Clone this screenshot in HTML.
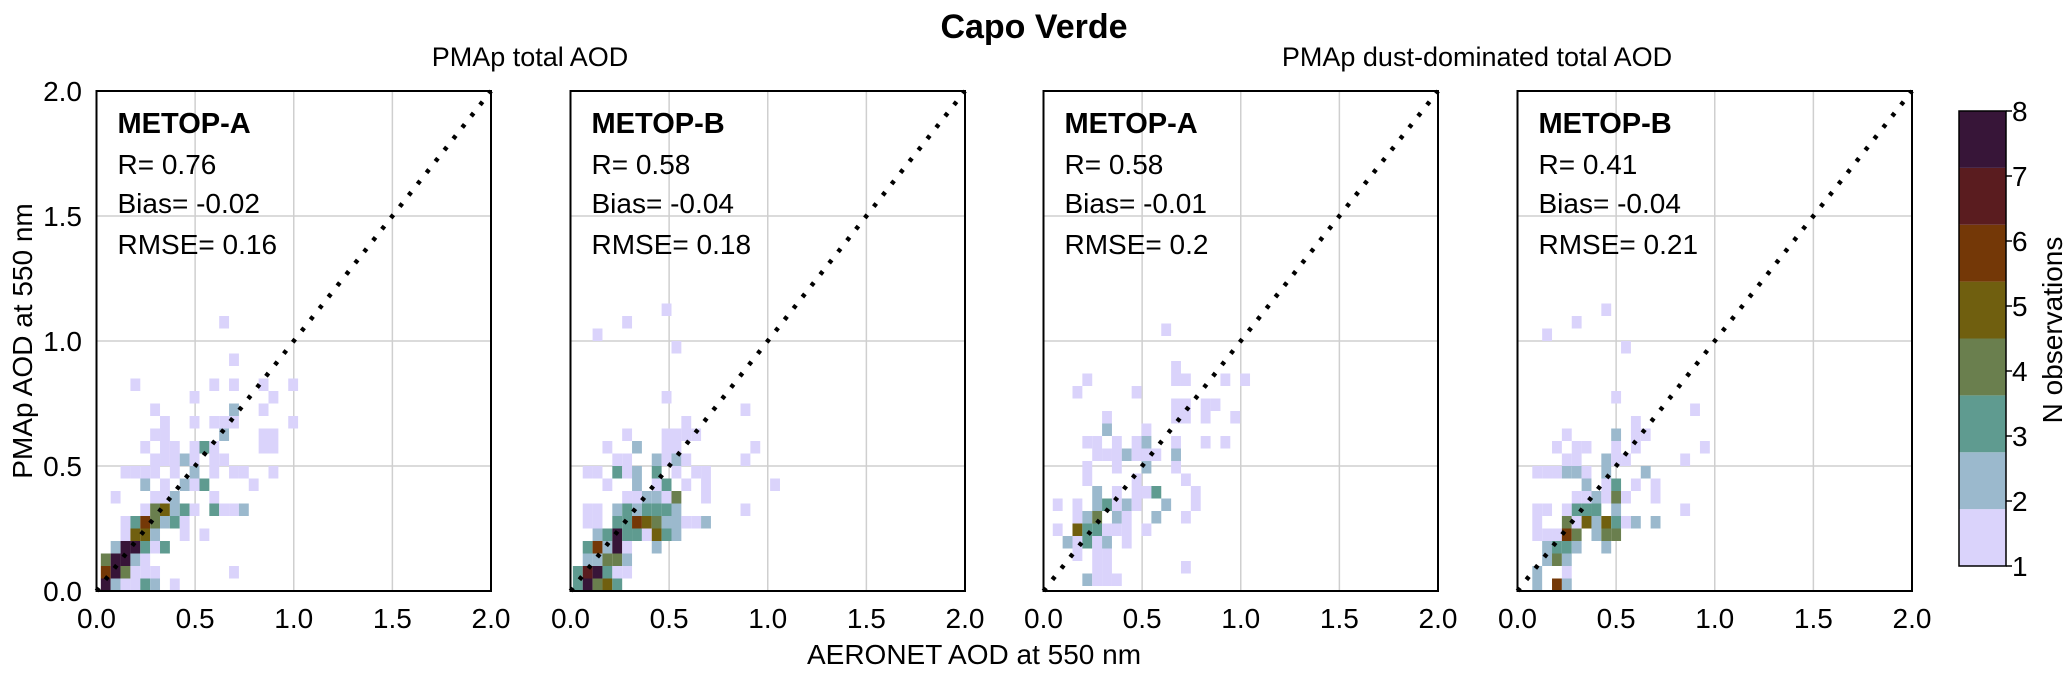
<!DOCTYPE html>
<html><head><meta charset="utf-8">
<style>
html,body{margin:0;padding:0;background:#fff;}
svg{display:block;font-family:"Liberation Sans",Arial,sans-serif;}
</style></head>
<body>
<svg id="chart" width="2067" height="676" viewBox="0 0 2067 676" xmlns="http://www.w3.org/2000/svg">
<text x="1034" y="38" font-size="34" font-weight="bold" text-anchor="middle">Capo Verde</text>
<text x="530" y="66" font-size="27" text-anchor="middle">PMAp total AOD</text>
<text x="1477" y="66" font-size="27" text-anchor="middle">PMAp dust-dominated total AOD</text>
<text transform="translate(32,341) rotate(-90)" font-size="28" text-anchor="middle">PMAp AOD at 550 nm</text>
<text x="974" y="664" font-size="28" text-anchor="middle">AERONET AOD at 550 nm</text>
<g id="panels"></g>
<g id="colorbar"></g>
</svg>
<script>
const NS = "http://www.w3.org/2000/svg";
const tickValues = [0, 0.5, 1.0, 1.5, 2.0];
const tickLabels = ["0.0", "0.5", "1.0", "1.5", "2.0"];
const colorLevels = ["#dad3fb", "#9bb9cd", "#5f9b90", "#6a7f4e", "#705f0f", "#743807", "#5a1c1f", "#371538"];
const cbTicks = [1, 2, 3, 4, 5, 6, 7, 8];
const binWidth = 0.05;

const satellites = ["METOP-A", "METOP-B", "METOP-A", "METOP-B"];
const rValues = ["0.76", "0.58", "0.58", "0.41"];
const biasValues = ["-0.02", "-0.04", "-0.01", "-0.04"];
const rmseValues = ["0.16", "0.18", "0.2", "0.21"];
const binStartX = [0.022, 0.012, 0.047, 0.025];
const binStartY = [0, 0, 0.02, 0];

// cells: [x-bin index, y-bin index, count]
const cellsP1 = [[0,0,8],[1,0,2],[2,0,1],[3,0,1],[4,0,3],[5,0,2],[7,0,1],
[0,1,6],[1,1,8],[2,1,4],[3,1,1],[4,1,1],[5,1,1],[13,1,1],
[0,2,4],[1,2,8],[2,2,8],[3,2,2],[4,2,1],
[1,3,2],[2,3,8],[3,3,8],[4,3,3],[5,3,1],[6,3,3],
[2,4,1],[3,4,5],[4,4,5],[5,4,2],[8,4,1],[10,4,1],
[2,5,1],[3,5,3],[4,5,6],[5,5,4],[6,5,2],[7,5,3],[8,5,1],
[4,6,1],[5,6,4],[6,6,5],[7,6,2],[8,6,3],[9,6,1],[11,6,3],[12,6,1],[13,6,1],[14,6,2],
[1,7,1],[5,7,1],[6,7,1],[7,7,2],[11,7,1],
[4,8,2],[6,8,1],[8,8,2],[9,8,1],[10,8,3],[15,8,1],
[2,9,1],[3,9,1],[4,9,1],[5,9,1],[7,9,1],[9,9,2],[11,9,1],[13,9,1],[14,9,1],[17,9,1],
[5,10,1],[6,10,1],[7,10,1],[8,10,2],[9,10,1],[11,10,1],[12,10,1],
[4,11,1],[6,11,1],[7,11,1],[9,11,1],[10,11,3],[11,11,1],[16,11,1],[17,11,1],
[5,12,1],[6,12,1],[12,12,2],[16,12,1],[17,12,1],
[6,13,1],[9,13,1],[11,13,1],[12,13,1],[13,13,1],[19,13,1],
[5,14,1],[13,14,2],[16,14,1],[9,15,1],[17,15,1],
[3,16,1],[11,16,1],[13,16,1],[16,16,1],[19,16,1],[13,18,1],[12,21,1]];
const cellsP2 = [[0,0,3],[1,0,8],[2,0,4],[3,0,5],[4,0,3],
[0,1,3],[1,1,7],[2,1,8],[3,1,3],[4,1,1],[5,1,1],
[1,2,2],[2,2,2],[3,2,4],[4,2,4],[5,2,2],
[1,3,3],[2,3,6],[3,3,2],[4,3,8],[5,3,1],[8,3,2],
[2,4,2],[3,4,3],[4,4,8],[5,4,3],[6,4,3],[7,4,1],[8,4,5],[9,4,3],[10,4,2],
[1,5,1],[2,5,1],[4,5,3],[5,5,3],[6,5,6],[7,5,5],[8,5,4],[9,5,2],[10,5,2],[11,5,1],[12,5,1],[13,5,2],
[1,6,1],[2,6,1],[4,6,2],[5,6,3],[6,6,2],[7,6,3],[8,6,3],[9,6,3],[10,6,2],[17,6,1],
[5,7,1],[6,7,1],[7,7,2],[8,7,2],[9,7,1],[10,7,4],[13,7,1],
[3,8,1],[6,8,2],[8,8,1],[9,8,3],[11,8,1],[13,8,1],[20,8,1],
[1,9,1],[2,9,1],[4,9,3],[5,9,1],[6,9,2],[8,9,3],[10,9,1],[12,9,1],[13,9,1],
[4,10,1],[5,10,1],[8,10,2],[9,10,1],[10,10,2],[11,10,1],[17,10,1],
[3,11,1],[6,11,2],[9,11,1],[10,11,1],[18,11,1],
[5,12,1],[9,12,1],[10,12,1],[11,12,1],[12,12,1],
[11,13,1],[17,14,1],[9,15,1],[10,19,1],[2,20,1],[5,21,1],[9,22,1]];
const cellsP3 = [[3,0,2],[4,0,1],[5,0,1],[6,0,1],
[4,1,1],[5,1,1],[13,1,1],
[2,2,1],[4,2,1],[5,2,1],
[1,3,2],[2,3,1],[3,3,3],[4,3,1],[5,3,2],[7,3,1],
[0,4,1],[2,4,5],[3,4,3],[4,4,3],[5,4,1],[6,4,1],[7,4,1],[9,4,1],
[2,5,1],[3,5,2],[4,5,4],[6,5,2],[7,5,1],[10,5,2],[13,5,1],
[0,6,1],[2,6,1],[4,6,2],[5,6,3],[6,6,1],[7,6,2],[8,6,1],[11,6,2],[14,6,1],
[4,7,2],[6,7,1],[8,7,1],[9,7,1],[10,7,3],[14,7,1],
[3,8,1],[8,8,1],[13,8,1],
[3,9,1],[6,9,1],[9,9,2],[12,9,1],
[4,10,1],[5,10,1],[6,10,1],[7,10,2],[8,10,1],[9,10,1],[10,10,1],[12,10,2],
[3,11,1],[4,11,1],[6,11,1],[8,11,1],[9,11,2],[12,11,1],[15,11,1],[17,11,1],
[5,12,2],[9,12,1],
[5,13,1],[12,13,1],[13,13,1],[15,13,1],[18,13,1],
[12,14,1],[13,14,1],[15,14,1],[16,14,1],
[2,15,1],[8,15,1],
[3,16,1],[12,16,1],[13,16,1],[17,16,1],[19,16,1],
[12,17,1],[11,20,1]];
const cellsP4 = [[1,0,2],[3,0,6],[4,0,2],
[1,1,2],[4,1,1],
[2,2,2],[3,2,4],[4,2,2],
[2,3,2],[3,3,3],[4,3,3],[5,3,2],[8,3,2],
[1,4,1],[2,4,1],[3,4,1],[4,4,6],[5,4,4],[7,4,2],[8,4,4],[9,4,4],
[1,5,1],[4,5,4],[5,5,1],[6,5,5],[7,5,2],[8,5,5],[9,5,3],[10,5,1],[11,5,2],[13,5,2],
[1,6,1],[2,6,1],[4,6,1],[5,6,3],[6,6,3],[7,6,3],[9,6,2],[16,6,1],
[5,7,1],[6,7,1],[7,7,2],[8,7,1],[9,7,4],[10,7,1],[13,7,1],
[6,8,2],[8,8,1],[9,8,3],[11,8,1],[13,8,1],
[1,9,1],[2,9,1],[3,9,1],[4,9,2],[5,9,2],[6,9,1],[8,9,2],[12,9,2],
[4,10,1],[5,10,1],[8,10,2],[9,10,1],[10,10,1],[16,10,1],
[3,11,1],[5,11,1],[6,11,1],[9,11,1],[11,11,1],[18,11,1],
[4,12,1],[9,12,2],[11,12,1],[12,12,1],
[11,13,1],[17,14,1],[9,15,1],[10,19,1],[2,20,1],[5,21,1],[8,22,1]];
const allCells = [cellsP1, cellsP2, cellsP3, cellsP4];

const panelLefts = [96.5, 570.5, 1043.5, 1517.5];
const PW = 394.5, TOP = 91, BOT = 591, PH = BOT - TOP;

function mk(tag, attrs, parent) {
  const e = document.createElementNS(NS, tag);
  for (const k in attrs) e.setAttribute(k, attrs[k]);
  parent.appendChild(e);
  return e;
}
function colorFor(n) {
  const idx = Math.min(7, Math.max(0, Math.floor((n - 1) / (7 / 8) + 1e-9)));
  return colorLevels[idx];
}
const panelsG = document.getElementById('panels');
panelLefts.forEach((L, p) => {
  const xs = v => L + v / 2 * PW;
  const ys = v => BOT - v / 2 * PH;
  const g = mk('g', {}, panelsG);
  
  
  // grid
  tickValues.slice(1, 4).forEach(v => {
    const gl = mk('line', {x1: xs(v), x2: xs(v), y1: TOP, y2: BOT, stroke: '#cfcfcf', 'stroke-width': 1.5}, g);
    
    
    const gh = mk('line', {x1: L, x2: L + PW, y1: ys(v), y2: ys(v), stroke: '#cfcfcf', 'stroke-width': 1.5}, g);
    
    
  });
  // cells
  allCells[p].forEach(c => {
    const x0 = binStartX[p] + c[0] * binWidth;
    const y0 = binStartY[p] + c[1] * binWidth;
    const r = mk('rect', {x: xs(x0), y: ys(y0 + binWidth), width: xs(x0 + binWidth) - xs(x0), height: ys(y0) - ys(y0 + binWidth), fill: colorFor(c[2])}, g);
    
    
  });
  // 1:1 line
  const d = mk('line', {x1: xs(0), y1: ys(0), x2: xs(2), y2: ys(2), stroke: '#000', 'stroke-width': 4.5, 'stroke-dasharray': '4 10.4'}, g);
  
  
  // frame
  const f = mk('rect', {x: L, y: TOP, width: PW, height: PH, fill: 'none', stroke: '#000', 'stroke-width': 2}, g);
  
  
  // x ticks
  tickValues.forEach((v, k) => {
    const t = mk('text', {x: xs(v), y: 628, 'font-size': 28, 'text-anchor': 'middle'}, g);
    t.textContent = tickLabels[k];
    
    
    if (p === 0) {
      const ty = mk('text', {x: 82, y: ys(v) + 10, 'font-size': 28, 'text-anchor': 'end'}, g);
      ty.textContent = tickLabels[k];
      
      
    }
  });
  // stats
  const sx = L + 21;
  const s0 = mk('text', {x: sx, y: 133, 'font-size': 29, 'font-weight': 'bold'}, g);
  s0.textContent = satellites[p];
  
  
  const s1 = mk('text', {x: sx, y: 174, 'font-size': 28}, g);
  s1.textContent = 'R= ' + rValues[p];
  
  
  const s2 = mk('text', {x: sx, y: 213, 'font-size': 28}, g);
  s2.textContent = 'Bias= ' + biasValues[p];
  
  
  const s3 = mk('text', {x: sx, y: 254, 'font-size': 28}, g);
  s3.textContent = 'RMSE= ' + rmseValues[p];
  
  
});

// colorbar
const cb = document.getElementById('colorbar');
const CBL = 1959, CBW = 47, CBT = 111, CBB = 566;
const cbY = v => CBB - (v - 1) / 7 * (CBB - CBT);
colorLevels.forEach((col, k) => {
  const v0 = 1 + k * 7 / 8, v1 = 1 + (k + 1) * 7 / 8;
  const r = mk('rect', {x: CBL, y: cbY(v1), width: CBW, height: cbY(v0) - cbY(v1), fill: col}, cb);
  
  
});
mk('rect', {x: CBL, y: CBT, width: CBW, height: CBB - CBT, fill: 'none', stroke: '#000', 'stroke-width': 1.5}, cb);
cbTicks.forEach(v => {
  mk('line', {x1: CBL + CBW, x2: CBL + CBW + 6, y1: cbY(v), y2: cbY(v), stroke: '#000', 'stroke-width': 1.5}, cb);
  const t = mk('text', {x: 2012, y: cbY(v) + 10, 'font-size': 28}, cb);
  t.textContent = String(v);
  
  
});
const cbt = mk('text', {transform: 'translate(2062,330) rotate(-90)', 'font-size': 28, 'text-anchor': 'middle'}, cb);
cbt.textContent = 'N observations';


</script>
</body></html>
